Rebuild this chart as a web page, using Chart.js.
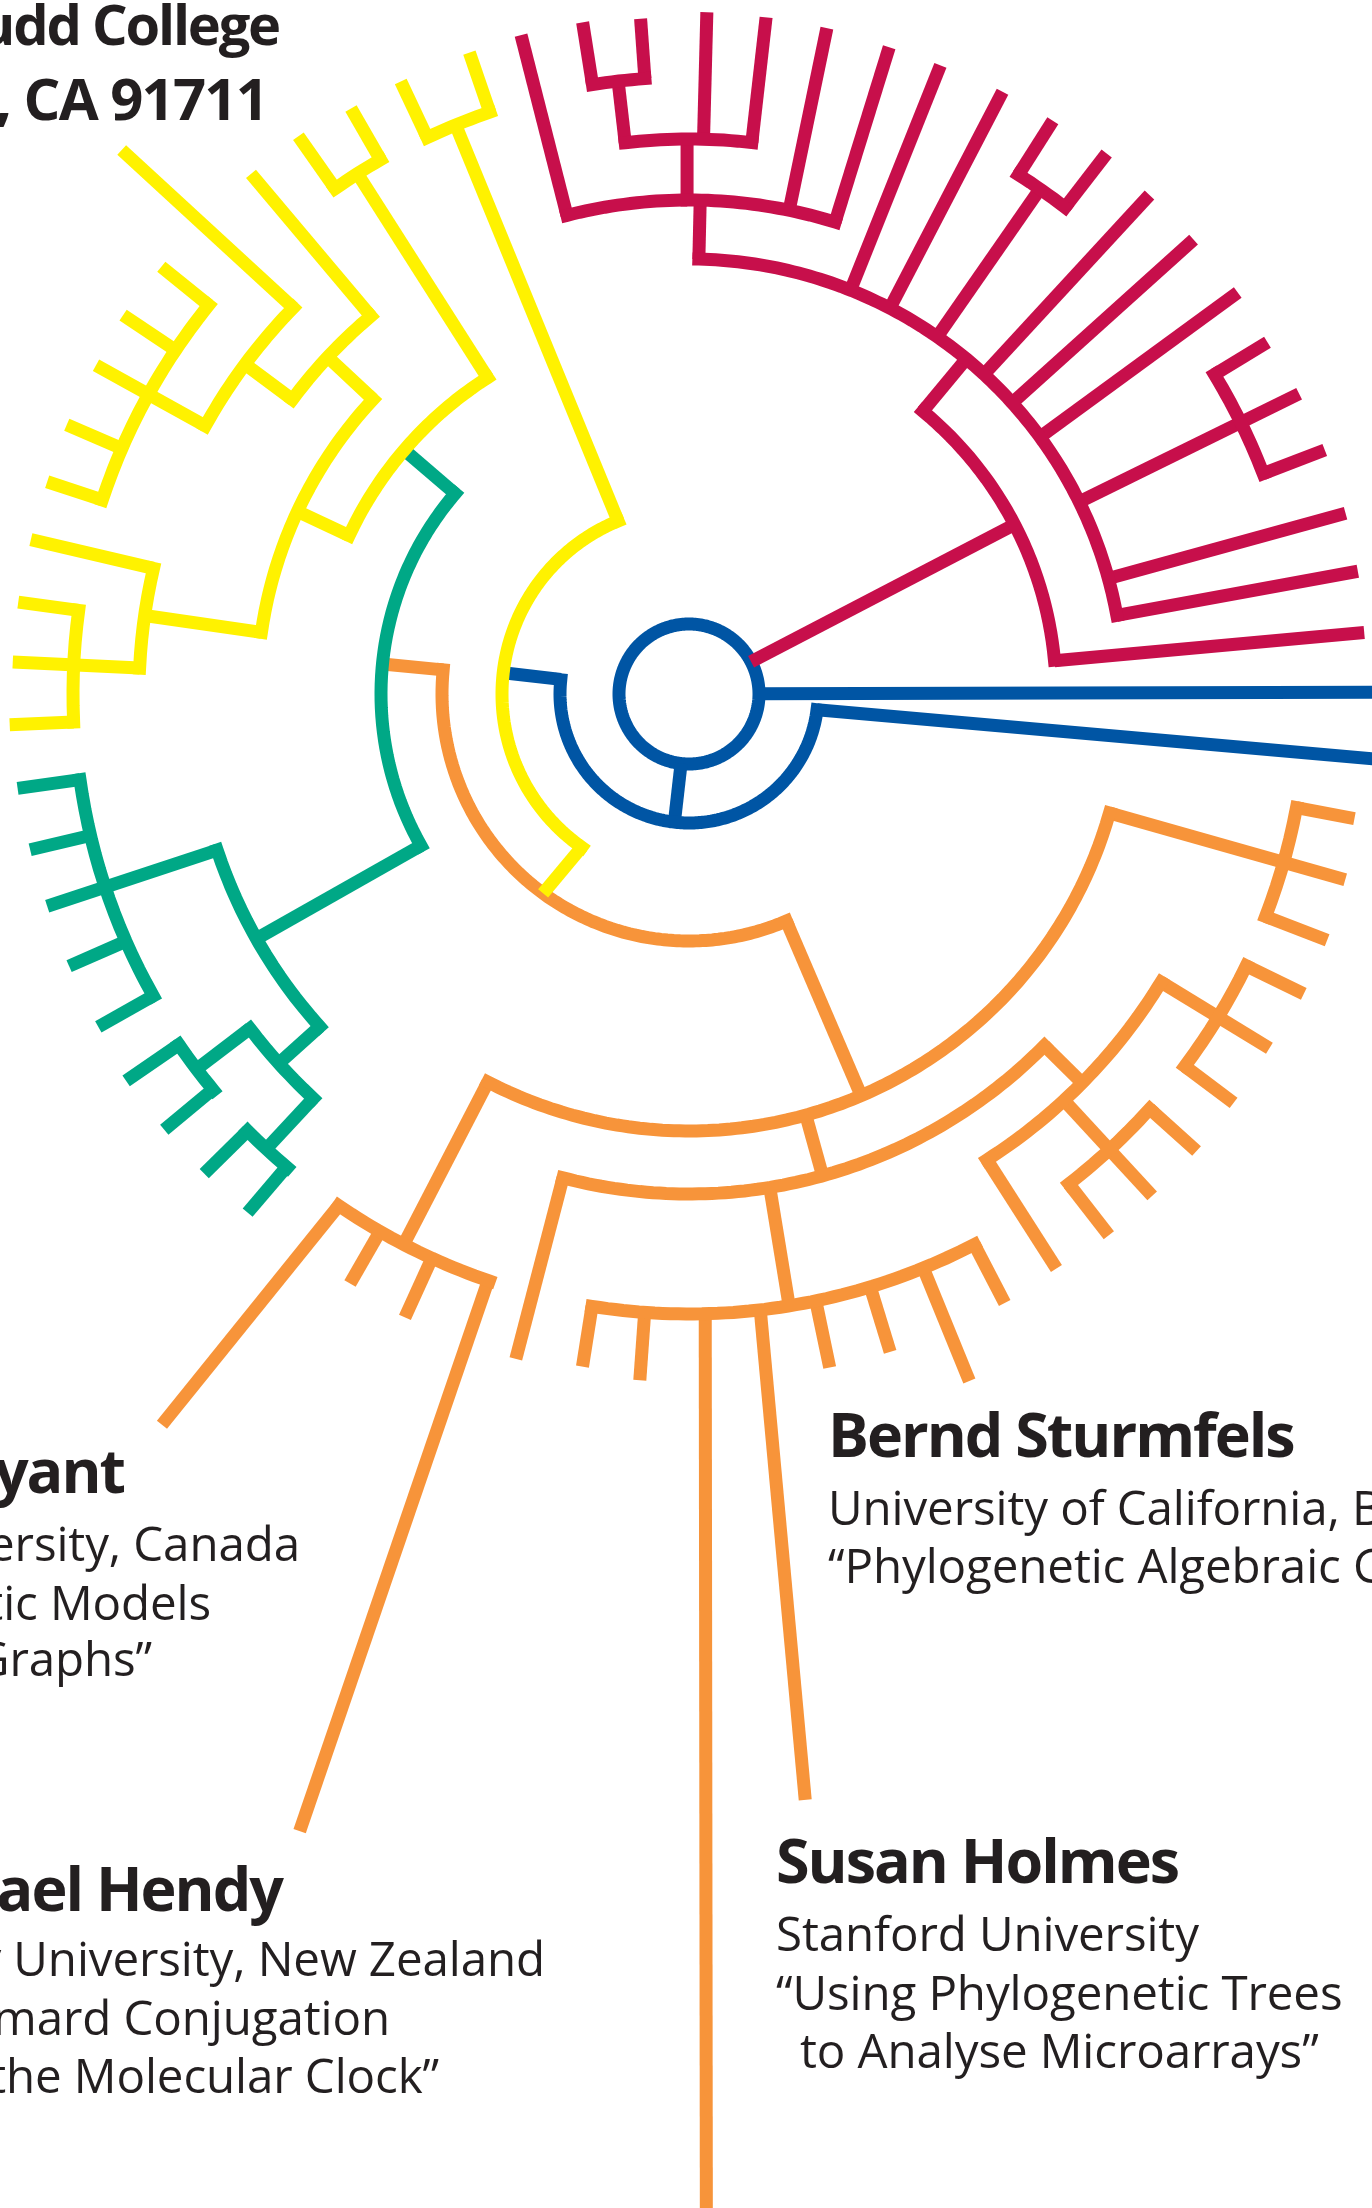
<!DOCTYPE html>
<html>
<head>
<meta charset="utf-8">
<script src="https://cdn.jsdelivr.net/npm/chart.js@4.4.1/dist/chart.umd.min.js"></script>
<style>
  html, body { margin: 0; padding: 0; background: #ffffff; }
  #wrap { position: relative; width: 1372px; height: 2208px; overflow: hidden; background: #ffffff; }
  #tree { position: absolute; left: 0; top: 0; }
  #labels { position: absolute; left: 0; top: 0; overflow: hidden; }
  #labels text { font-family: 'Open Sans', 'Noto Sans', sans-serif; fill: #231F20; }
  #labels .h1 { font-weight: 700; font-size: 56px; letter-spacing: -2.2px; }
  #labels .h { font-weight: 700; font-size: 58px; letter-spacing: -1.8px; }
  #labels .b { font-weight: 700; font-size: 61px; letter-spacing: -2px; }
  #labels .r { font-weight: 400; font-size: 47.5px; letter-spacing: -0.1px; }
</style>
</head>
<body>
<div id="wrap">
  <canvas id="tree" width="1372" height="2208"></canvas>
  <svg id="labels" xmlns="http://www.w3.org/2000/svg" width="1372" height="2208">
    <text class="h1" x="279" y="45" text-anchor="end">Harvey Mudd College</text>
    <text class="h" x="267" y="120" text-anchor="end">Claremont, CA 91711</text>

    <text class="b" x="124" y="1493" text-anchor="end">David Bryant</text>
    <text class="r" x="300" y="1561" text-anchor="end">McGill University, Canada</text>
    <text class="r" x="211" y="1620" text-anchor="end">“Phylogenetic Models</text>
    <text class="r" x="152" y="1676" text-anchor="end">and Graphs”</text>

    <text class="b" x="282" y="1911" text-anchor="end">Michael Hendy</text>
    <text class="r" x="545" y="1976" text-anchor="end">Massey University, New Zealand</text>
    <text class="r" x="390" y="2035" text-anchor="end">“Hadamard Conjugation</text>
    <text class="r" x="439" y="2093" text-anchor="end">and the Molecular Clock”</text>

    <text class="b" x="828" y="1457">Bernd Sturmfels</text>
    <text class="r" x="828" y="1525">University of California, Berkeley</text>
    <text class="r" x="828" y="1583">“Phylogenetic Algebraic Geometry”</text>

    <text class="b" x="776" y="1883">Susan Holmes</text>
    <text class="r" x="776" y="1951">Stanford University</text>
    <text class="r" x="776" y="2010">“Using Phylogenetic Trees</text>
    <text class="r" x="800" y="2068">to Analyse Microarrays”</text>
  </svg>
</div>
<script>
// ---------------- DATA (angles in degrees, counter-clockwise from east; radii = branch depth) ----------------
// arcs: [radius, fromAngle, toAngle]; branches: [angle, innerRadius, outerRadius, (optional) angleAtOuterEnd]

const blueRing = [70];
const blueArcs = [
  [129, 173.7, 353]
];
const blueBranches = [
  [0.15, 70, 720],
  [263.5, 70, 129],
  [173.5, 129, 187],
  [353, 129, 700, 354.6]
];

const redArcs = [
  [367, 5.3, 50.4],
  [435, 10.4, 88.7],
  [615, 21, 31.3],
  [615, 52.3, 57.6],
  [494, 72.8, 104.3],
  [555, 83.5, 96.6],
  [617, 94.1, 99]
];
const redBranches = [
  [27.5, 70, 367],
  [5.2, 367, 678],
  [50.4, 367, 435],
  [10.4, 435, 680],
  [15.4, 435, 681],
  [26.2, 435, 680],
  [21, 615, 681],
  [31.3, 615, 677],
  [36.2, 435, 680],
  [42, 435, 679],
  [47.3, 435, 679],
  [55.2, 435, 615],
  [52.3, 615, 683],
  [57.6, 615, 679],
  [62.5, 435, 679],
  [68.2, 435, 677],
  [88.7, 435, 494],
  [72.8, 494, 677],
  [78.3, 494, 680],
  [104.3, 494, 680],
  [90.2, 494, 555],
  [83.5, 555, 681],
  [88.5, 555, 682],
  [96.6, 555, 617],
  [94.1, 617, 677],
  [99, 617, 680]
];

const yellowArcs = [
  [187, 112.3, 235],
  [615, 108.9, 115.2],
  [375, 122.5, 155],
  [617, 120, 125],
  [432, 137, 171.8],
  [494, 130.1, 143.4],
  [553, 135.7, 151],
  [618, 141, 161.7],
  [550, 166.8, 177.3],
  [616, 172.2, 182.6]
];
const yellowBranches = [
  [112.3, 187, 615],
  [108.9, 615, 678],
  [115.2, 615, 677],
  [235, 187, 247, 233.8],
  [122.5, 375, 617],
  [120, 617, 676],
  [125, 617, 681],
  [155, 375, 432],
  [137, 432, 494],
  [130.1, 494, 680],
  [143.4, 494, 553],
  [135.7, 553, 786, 136.2],
  [151, 553, 678],
  [141, 618, 679],
  [146.2, 618, 681],
  [156.6, 618, 678],
  [161.7, 618, 676],
  [171.8, 432, 550],
  [166.8, 550, 676],
  [177.3, 550, 677],
  [172.2, 616, 677],
  [182.6, 616, 680]
];

const greenArcs = [
  [308, 139.4, 209.5],
  [497, 198.3, 222],
  [615, 188, 209.4],
  [552, 217.3, 227.1],
  [619, 214.5, 219.8],
  [621, 224.7, 229.7]
];
const greenBranches = [
  [139.4, 308, 375],
  [209.5, 308, 497],
  [198.3, 497, 676],
  [188, 615, 678],
  [193.3, 615, 677],
  [203.7, 615, 677],
  [209.4, 615, 678],
  [222, 497, 552],
  [217.3, 552, 619],
  [214.5, 619, 683],
  [219.7, 619, 682],
  [227.1, 552, 621],
  [224.7, 621, 682],
  [229.6, 621, 681]
];

const orangeArcs = [
  [247, 174.4, 293.2],
  [437, 242.6, 344.2],
  [620, 235.6, 251.2],
  [500, 255.4, 315.3],
  [553, 302.6, 328.6],
  [620, 323.1, 334],
  [620, 307.8, 318],
  [620, 261, 297.4],
  [618, 338.9, 349.4]
];
const orangeBranches = [
  [174.4, 247, 308],
  [293.2, 247, 437],
  [242.6, 437, 620],
  [235.6, 620, 901, 234.2],
  [240.1, 620, 680],
  [245.5, 620, 685],
  [251.1, 620, 1202],
  [285.5, 437, 500],
  [255.4, 500, 687],
  [279.3, 500, 620],
  [261, 620, 681],
  [265.9, 620, 688],
  [271.5, 620, 1530, 270.65],
  [276.6, 620, 1112, 276],
  [281.8, 620, 688],
  [287, 620, 688],
  [292.2, 620, 742],
  [297.4, 620, 686],
  [315.3, 500, 553],
  [302.6, 553, 682],
  [312.7, 553, 683],
  [307.8, 620, 685],
  [318, 620, 683],
  [328.6, 553, 680],
  [323.1, 620, 681],
  [334, 620, 684],
  [344.2, 437, 682],
  [338.9, 618, 684],
  [349.4, 618, 677]
];

// ---------------- STYLE ----------------
const palette = {
  blue: '#0055A4',
  red: '#C70F4B',
  yellow: '#FFF200',
  green: '#00A886',
  orange: '#F7943A'
};
const STROKE = 13;

// ---------------- BUILD ----------------
const rad = d => d * Math.PI / 180;
const polar = (a, r) => ({ x: r * Math.cos(rad(a)), y: r * Math.sin(rad(a)) });

function arcPoints(r, a1, a2) {
  const n = Math.max(2, Math.ceil(Math.abs(a2 - a1) / 1.5));
  const pts = [];
  for (let i = 0; i <= n; i++) pts.push(polar(a1 + (a2 - a1) * i / n, r));
  return pts;
}
function branchPoints(b) {
  const a2 = b.length > 3 ? b[3] : b[0];
  return [polar(b[0], b[1]), polar(a2, b[2])];
}
function lineSet(points, color, cap, curved) {
  return {
    data: points,
    showLine: true,
    borderColor: color,
    backgroundColor: color,
    borderWidth: STROKE,
    borderCapStyle: cap,
    borderJoinStyle: 'miter',
    pointRadius: 0,
    pointHoverRadius: 0,
    // a tiny tension keeps Chart.js off its pixel-column "fast path", which would distort near-vertical arcs
    tension: curved ? 0.0001 : 0,
    cubicInterpolationMode: 'default',
    fill: false
  };
}

const clades = [
  { color: palette.red, arcs: redArcs, branches: redBranches },
  { color: palette.yellow, arcs: yellowArcs, branches: yellowBranches },
  { color: palette.green, arcs: greenArcs, branches: greenBranches },
  { color: palette.orange, arcs: orangeArcs, branches: orangeBranches },
  { color: palette.blue, arcs: blueArcs, branches: blueBranches }
];

const datasets = [];
clades.forEach(c => {
  c.arcs.forEach(a => datasets.push(lineSet(arcPoints(a[0], a[1], a[2]), c.color, 'square', true)));
  c.branches.forEach(b => datasets.push(lineSet(branchPoints(b), c.color, 'butt', false)));
});
blueRing.forEach(r => datasets.push(lineSet(arcPoints(r, 0, 360), palette.blue, 'round', true)));

new Chart(document.getElementById('tree').getContext('2d'), {
  type: 'scatter',
  data: { datasets },
  options: {
    responsive: false,
    maintainAspectRatio: false,
    animation: false,
    events: [],
    layout: { padding: 0 },
    plugins: { legend: { display: false }, tooltip: { enabled: false }, title: { display: false } },
    scales: {
      x: { type: 'linear', min: -689, max: 683, display: false },
      y: { type: 'linear', min: -1514, max: 694, display: false }
    }
  }
});
</script>
</body>
</html>
